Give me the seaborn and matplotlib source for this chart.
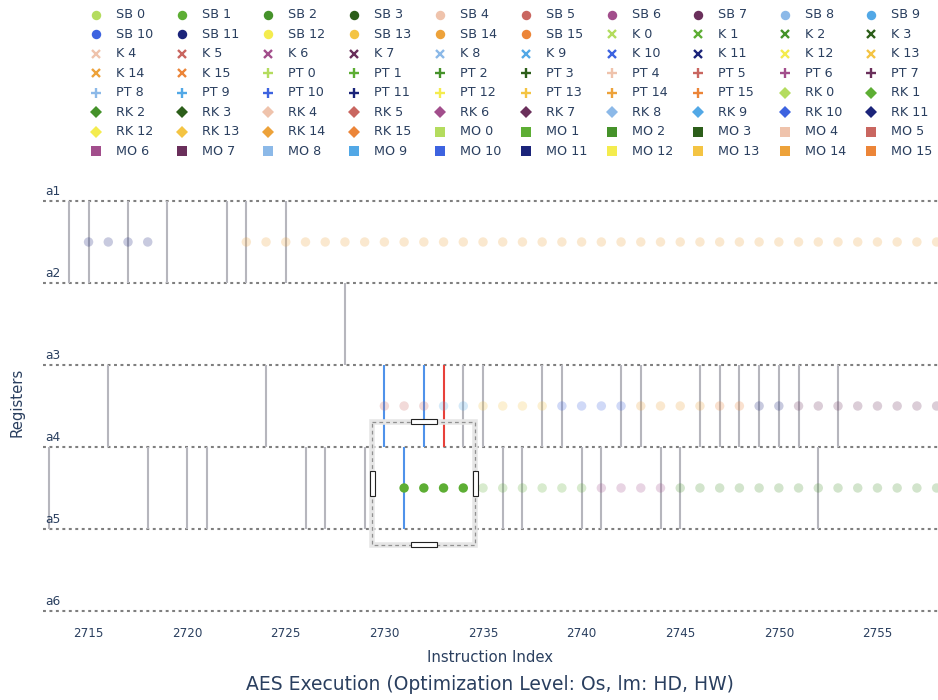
import matplotlib
matplotlib.use("Agg")
import matplotlib.pyplot as plt
from matplotlib.lines import Line2D
from matplotlib.patches import Rectangle
import pandas as pd
import seaborn as sns

# ---------------------------------------------------------------- data
registers = ["a1", "a2", "a3", "a4", "a5", "a6"]
x_ticks = [2715, 2720, 2725, 2730, 2735, 2740, 2745, 2750, 2755]

# one colour per byte slot, shared by every variable group
slot_colors = [
    "#B4DC5E", "#5DAE34", "#45922A", "#2C5E1A",
    "#EFC3AC", "#C96660", "#A24E8C", "#6A2F5B",
    "#8CB9E8", "#52A8E6", "#3D63E0", "#1B247A",
    "#F4EC4E", "#F4C443", "#EDA23A", "#EC8538",
]
groups = ["SB", "K", "PT", "RK", "MO"]
group_markers = {"SB": "o", "K": "x", "PT": "+", "RK": "D", "MO": "s"}

# variable held between two registers, per instruction index
lane_a1_a2 = {
    "SB 11": [2715, 2716, 2717, 2718],
    "SB 14": [2723, 2724, 2725, 2726, 2727, 2728, 2729, 2730, 2731, 2732,
              2733, 2734, 2735, 2736, 2737, 2738, 2739, 2740, 2741, 2742,
              2743, 2744, 2745, 2746, 2747, 2748, 2749, 2750, 2751, 2752,
              2753, 2754, 2755, 2756, 2757, 2758],
}
lane_a3_a4 = {
    "SB 5": [2730, 2731, 2732],
    "SB 9": [2733, 2734],
    "SB 13": [2735, 2736, 2737, 2738],
    "SB 10": [2739, 2740, 2741, 2742],
    "SB 14": [2743, 2744, 2745, 2746],
    "SB 15": [2747, 2748],
    "SB 11": [2749, 2750],
    "SB 7": [2751, 2752, 2753, 2754, 2755, 2756, 2757, 2758],
}
lane_a4_a5 = {
    "SB 1": [2735, 2736, 2737, 2738, 2739, 2740],
    "SB 6": [2741, 2742, 2743, 2744],
    "SB 2": [2745, 2746, 2747, 2748, 2749, 2750, 2751, 2752, 2753, 2754,
             2755, 2756, 2757, 2758],
}
# selected window
selected_a4_a5 = {"SB 1": [2731, 2732, 2733, 2734]}

# register transitions (upper register index -> instruction indices)
gray_links = {
    0: [2714, 2715, 2717, 2719, 2722, 2723, 2725],
    1: [2728],
    2: [2716, 2724, 2734, 2735, 2738, 2739, 2742, 2743, 2746, 2747, 2748,
        2749, 2750, 2751, 2753],
    3: [2713, 2718, 2720, 2721, 2726, 2727, 2729, 2736, 2737, 2740, 2741,
        2744, 2745, 2752],
}
blue_links = {2: [2730, 2732], 3: [2731]}
red_links = {2: [2733]}

x_range = (2712.69, 2758.07)
window_x = (2729.39, 2734.61)
window_y = (2.69, 4.195)

# ---------------------------------------------------------------- frames
var_colors = {f"{g} {s}": slot_colors[s] for g in groups for s in range(16)}


def lane_frame(lanes):
    rows = []
    for upper, runs in lanes:
        for var, idxs in runs.items():
            for i in idxs:
                rows.append({"instr": i, "lane": upper + 0.5, "var": var})
    return pd.DataFrame(rows)


faint = lane_frame([(0, lane_a1_a2), (2, lane_a3_a4), (3, lane_a4_a5)])
active = lane_frame([(3, selected_a4_a5)])

# ---------------------------------------------------------------- figure
sns.set_theme(style="white")
plt.rcParams["font.family"] = ["DejaVu Sans"]
text_color = "#2a3f5f"

fig = plt.figure(figsize=(9.38, 7.0), dpi=100)
ax = fig.add_axes([43 / 938, 1 - 620 / 700, 895 / 938, 435 / 700])

# register lines
for k, name in enumerate(registers):
    ax.axhline(k, color="#7f7f7f", lw=1.5, dashes=(1.4, 1.7), zorder=1)
    ax.text(0.002, k - 0.11, name, transform=ax.get_yaxis_transform(),
            ha="left", va="center", fontsize=8.8, color=text_color)

# transitions between registers
for upper, xs in gray_links.items():
    ax.vlines(xs, upper, upper + 1, color="#b6b6bd", lw=1.5, zorder=2)
for upper, xs in blue_links.items():
    ax.vlines(xs, upper, upper + 1, color="#4F92EA", lw=1.5, zorder=2)
for upper, xs in red_links.items():
    ax.vlines(xs, upper, upper + 1, color="#E8413A", lw=1.5, zorder=2)

# variable occupancy dots
sns.scatterplot(data=faint, x="instr", y="lane", hue="var", palette=var_colors,
                alpha=0.24, s=46, linewidth=0, legend=False, ax=ax, zorder=3)
sns.scatterplot(data=active, x="instr", y="lane", hue="var", palette=var_colors,
                alpha=1.0, s=46, linewidth=0, legend=False, ax=ax, zorder=4)

# selection window with resize handles
wx0, wx1 = window_x
wy0, wy1 = window_y
for ec, lw, ls in [("#e6e6e6", 4.0, "solid"), ("#909090", 0.9, (0, (3, 2.5)))]:
    ax.add_patch(Rectangle((wx0, wy0), wx1 - wx0, wy1 - wy0, fill=False,
                           edgecolor=ec, lw=lw, linestyle=ls, zorder=5))
cx = (wx0 + wx1) / 2
cy = (wy0 + wy1) / 2
hw, hh = 1.30, 0.061
sw, sh = 0.25, 0.31
for (x0, y0, w, h) in [(cx - hw / 2, wy0 - hh / 2, hw, hh),
                       (cx - hw / 2, wy1 - hh / 2, hw, hh),
                       (wx0 - sw / 2, cy - sh / 2, sw, sh),
                       (wx1 - sw / 2, cy - sh / 2, sw, sh)]:
    ax.add_patch(Rectangle((x0, y0), w, h, facecolor="white",
                           edgecolor="#222222", lw=0.8, zorder=6))

ax.set_xlim(*x_range)
ax.set_ylim(5.11, -0.195)
ax.set_xticks(x_ticks)
ax.set_xticklabels([str(t) for t in x_ticks], fontsize=8.6, color=text_color)
ax.set_yticks([])
ax.tick_params(axis="x", length=0, pad=5)
ax.set_xlabel("")
ax.set_ylabel("")
for sp in ax.spines.values():
    sp.set_visible(False)

fig.text(490 / 938, 1 - 658 / 700, "Instruction Index", ha="center",
         va="center", fontsize=10.7, color=text_color)
fig.text(17 / 938, 1 - 402 / 700, "Registers", ha="center", va="center",
         rotation=90, fontsize=10.7, color=text_color)
fig.text(490 / 938, 1 - 684 / 700,
         "AES Execution (Optimization Level: Os, lm: HD, HW)",
         ha="center", va="center", fontsize=13.5, color=text_color)

# legend: 80 entries, filled row by row in 10 columns
marker_style = {
    "o": dict(markersize=6.8, mew=0),
    "x": dict(markersize=5.2, mew=1.7),
    "+": dict(markersize=6.8, mew=1.7),
    "D": dict(markersize=6.4, mew=0),
    "s": dict(markersize=6.5, mew=0),
}
entries = [(g, s) for g in groups for s in range(16)]
for n, (g, s) in enumerate(entries):
    r, c = divmod(n, 10)
    px = 95.7 + 86.1 * c
    py = 15.0 + 19.45 * r
    m = group_markers[g]
    col = slot_colors[s]
    fig.add_artist(Line2D([px / 938], [1 - py / 700], transform=fig.transFigure,
                          marker=m, linestyle="none", color=col,
                          markerfacecolor=col, markeredgecolor=col,
                          **marker_style[m]))
    fig.text((px + 20) / 938, 1 - py / 700, f"{g} {s}", ha="left",
             va="center", fontsize=9.2, color=text_color)

fig.savefig("out.png", dpi=100, facecolor="white")
